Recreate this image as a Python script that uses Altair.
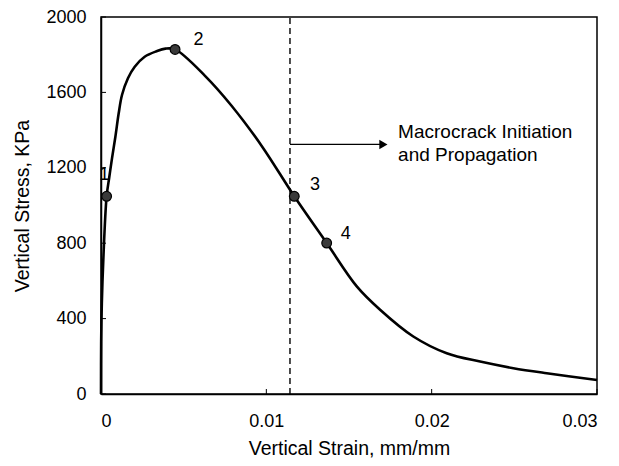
import altair as alt
import pandas as pd

# Curve (strain mm/mm, stress kPa)
strain = [0.0, 0.00001, 0.00005, 0.00014, 0.00034, 0.00050, 0.000665, 0.00087, 0.00107,
          0.00127, 0.00163, 0.00204, 0.00264, 0.00335, 0.0039, 0.00448, 0.00629, 0.00791,
          0.00972, 0.01169, 0.01365, 0.01547, 0.01688, 0.01889, 0.02091, 0.02293,
          0.02494, 0.02696, 0.03]
stress = [0, 280, 480, 713, 1049, 1150, 1250, 1365, 1489,
          1586, 1675, 1736, 1789, 1818, 1832, 1828, 1688, 1528,
          1316, 1049, 801, 571, 447, 305, 216, 172,
          137, 110, 74]

pt_strain = [0.00034, 0.00448, 0.01169, 0.01365]
pt_stress = [1049, 1828, 1049, 801]
pt_label = ["1", "2", "3", "4"]
lab_strain = [0.0002, 0.00589, 0.01295, 0.0148]
lab_stress = [1162, 1878, 1109, 847]

crack_strain = 0.01143
arrow_stress = 1324
arrow_end = 0.01748
note_lines = ["Macrocrack Initiation", "and Propagation"]
note_stress = [1390, 1268]
note_strain = 0.01797

x_ticks = [0, 0.01, 0.02, 0.03]
y_ticks = [0, 400, 800, 1200, 1600, 2000]

FONT = "Liberation Sans"
W, H = 496, 377
xs = alt.Scale(domain=[0, 0.03], nice=False, zero=False)
ys = alt.Scale(domain=[0, 2000], nice=False)

curve_df = pd.DataFrame({"strain": strain, "stress": stress})
pts_df = pd.DataFrame({"strain": pt_strain, "stress": pt_stress})
lab_df = pd.DataFrame({"strain": lab_strain, "stress": lab_stress, "t": pt_label})

xaxis = alt.Axis(values=x_ticks, format="~g", title="Vertical Strain, mm/mm",
                 grid=False, ticks=False, labelPadding=18, titlePadding=9)
yaxis = alt.Axis(values=y_ticks, format="d", title="Vertical Stress, KPa", grid=False,
                 ticks=False, labelPadding=15, titlePadding=13)

curve = alt.Chart(curve_df).mark_line(color="black", strokeWidth=2.6, interpolate="catmull-rom").encode(
    x=alt.X("strain:Q", scale=xs, axis=xaxis),
    y=alt.Y("stress:Q", scale=ys, axis=yaxis),
    order="strain:Q",
)

ytick_df = pd.DataFrame({"v": y_ticks})
yt = alt.Chart(ytick_df).mark_rule(color="black", strokeWidth=1).encode(
    x=alt.value(0), x2=alt.value(5), y=alt.Y("v:Q", scale=ys))
xtick_df = pd.DataFrame({"v": x_ticks})
xt = alt.Chart(xtick_df).mark_rule(color="black", strokeWidth=1).encode(
    y=alt.value(H), y2=alt.value(H - 5), x=alt.X("v:Q", scale=xs))

pts = alt.Chart(pts_df).mark_point(filled=True, shape="circle", size=95, color="#3a3a3a",
                                   stroke="black", strokeWidth=1.2, opacity=1).encode(
    x=alt.X("strain:Q", scale=xs), y=alt.Y("stress:Q", scale=ys))

labels = alt.Chart(lab_df).mark_text(font=FONT, fontSize=18, color="black", align="center",
                                     baseline="middle").encode(
    x=alt.X("strain:Q", scale=xs), y=alt.Y("stress:Q", scale=ys), text="t:N")

vline_df = pd.DataFrame({"strain": [crack_strain], "y0": [0], "y1": [2000]})
vline = alt.Chart(vline_df).mark_rule(color="black", strokeWidth=1.4, strokeDash=[6, 4]).encode(
    x=alt.X("strain:Q", scale=xs), y=alt.Y("y0:Q", scale=ys), y2="y1:Q")

arr_df = pd.DataFrame({"x0": [crack_strain], "x1": [arrow_end - 0.0004], "y": [arrow_stress]})
arrow = alt.Chart(arr_df).mark_rule(color="black", strokeWidth=1.3).encode(
    x=alt.X("x0:Q", scale=xs), x2="x1:Q", y=alt.Y("y:Q", scale=ys))
head_df = pd.DataFrame({"x": [arrow_end - 0.0004], "y": [arrow_stress]})
head = alt.Chart(head_df).mark_point(shape="triangle-right", filled=True, size=90,
                                     color="black", opacity=1).encode(
    x=alt.X("x:Q", scale=xs), y=alt.Y("y:Q", scale=ys))

note_df = pd.DataFrame({"x": [note_strain] * 2, "y": note_stress, "t": note_lines})
note = alt.Chart(note_df).mark_text(font=FONT, fontSize=19, color="black", align="left",
                                    baseline="middle").encode(
    x=alt.X("x:Q", scale=xs), y=alt.Y("y:Q", scale=ys), text="t:N")

chart = alt.layer(curve, yt, xt, vline, arrow, head, pts, labels, note).properties(
    width=W, height=H,
    autosize=alt.AutoSizeParams(type="none"),
    padding={"left": 93, "top": 9, "right": 10, "bottom": 64},
    background="white",
).configure_view(stroke="black", strokeWidth=1.5).configure_axis(
    domainColor="black", domainWidth=1.5,
    labelFont=FONT, titleFont=FONT, labelFontSize=18, titleFontSize=19.5,
    labelColor="black", titleColor="black", titleFontWeight="normal",
)

chart.save("out.html", embed_options={"renderer": "svg", "actions": False})
